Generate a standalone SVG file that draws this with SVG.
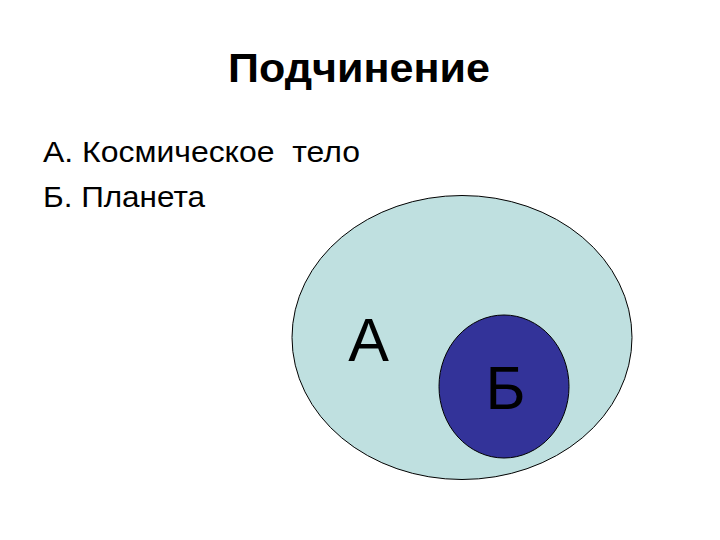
<svg xmlns="http://www.w3.org/2000/svg" width="720" height="540" viewBox="0 0 720 540">
<style>
text{font-family:"Liberation Sans",Arial,sans-serif;fill:#000}
.title{font-size:41px;font-weight:bold;text-anchor:middle}
.item{font-size:30px}
.big{font-size:61px;text-anchor:middle}
</style>
<rect width="720" height="540" fill="#fff"/>
<text class="title" x="359" y="82" textLength="262" lengthAdjust="spacingAndGlyphs">Подчинение</text>
<text class="item" x="43" y="162" xml:space="preserve" textLength="317" lengthAdjust="spacingAndGlyphs">А. Космическое  тело</text>
<text class="item" x="43" y="207" textLength="162" lengthAdjust="spacingAndGlyphs">Б. Планета</text>
<g id="nodeA">
<ellipse cx="462" cy="337.5" rx="170" ry="142" fill="#bfe0e0" stroke="#000" stroke-width="1"/>
<text class="big" x="368.5" y="361">А</text>
</g>
<g id="nodeB">
<ellipse cx="504" cy="386.5" rx="65" ry="71.5" fill="#333399" stroke="#000" stroke-width="1"/>
<text class="big" x="505.5" y="409" style="fill:#000">Б</text>
</g>
<g id="connectors"/>
</svg>
